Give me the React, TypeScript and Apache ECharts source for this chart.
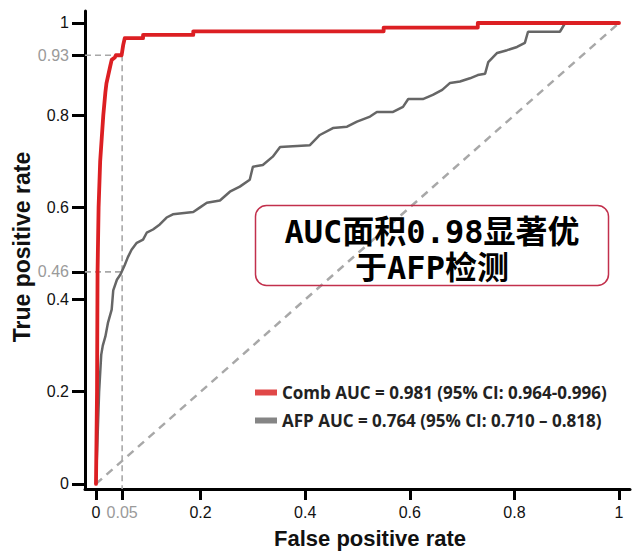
import React, { useEffect, useRef } from "react";
import * as echarts from "echarts";

// Comb ROC curve points [FPR, TPR]
const combPoints: [number, number][] = [
  [0, 0], [0.001, 0.1], [0.002, 0.2], [0.003, 0.46], [0.005, 0.6], [0.008, 0.7],
  [0.011, 0.75], [0.014, 0.8], [0.018, 0.85], [0.02, 0.869], [0.027, 0.905],
  [0.03, 0.92], [0.036, 0.925], [0.038, 0.93], [0.049, 0.93], [0.052, 0.952],
  [0.055, 0.967], [0.09, 0.967], [0.09, 0.974], [0.186, 0.974], [0.186, 0.982],
  [0.55, 0.982], [0.55, 0.99], [0.73, 0.99], [0.73, 1], [1, 1],
];

// AFP ROC curve points [FPR, TPR]
const afpPoints: [number, number][] = [
  [0, 0], [0.003, 0.1], [0.006, 0.2], [0.008, 0.24], [0.01, 0.28], [0.013, 0.3],
  [0.018, 0.32], [0.023, 0.35], [0.03, 0.378], [0.033, 0.42], [0.04, 0.443],
  [0.047, 0.455], [0.055, 0.475], [0.061, 0.492], [0.068, 0.508], [0.078, 0.523],
  [0.09, 0.53], [0.097, 0.545], [0.109, 0.552], [0.122, 0.563], [0.135, 0.578],
  [0.147, 0.585], [0.186, 0.59], [0.199, 0.6], [0.212, 0.61], [0.237, 0.615],
  [0.256, 0.634], [0.275, 0.645], [0.294, 0.66], [0.3, 0.688], [0.319, 0.692],
  [0.338, 0.71], [0.352, 0.731], [0.409, 0.735], [0.428, 0.757], [0.453, 0.772],
  [0.48, 0.775], [0.499, 0.786], [0.524, 0.797], [0.537, 0.807], [0.568, 0.807],
  [0.587, 0.818], [0.597, 0.835], [0.625, 0.835], [0.644, 0.844], [0.662, 0.855],
  [0.677, 0.87], [0.696, 0.873], [0.715, 0.88], [0.73, 0.887], [0.744, 0.89],
  [0.75, 0.915], [0.767, 0.935], [0.786, 0.941], [0.805, 0.948], [0.82, 0.957],
  [0.826, 0.981], [0.887, 0.981], [0.897, 1], [1, 1],
];

const diagonal: [number, number][] = [[0, 0], [1, 1]];

const xTicks = [0, 0.05, 0.2, 0.4, 0.6, 0.8, 1];
const yTicks = [0, 0.2, 0.4, 0.46, 0.6, 0.8, 0.93, 1];
const highlightTicks = [0.05, 0.46, 0.93];

const refFPR = 0.05;
const refTPRHigh = 0.93;
const refTPRLow = 0.46;

const combName = "Comb AUC = 0.981 (95% CI: 0.964-0.996)";
const afpName = "AFP AUC = 0.764 (95% CI: 0.710 \u2013 0.818)";
const noteText = "AUC面积0.98显著优\n于AFP检测";

const X_MIN = -0.021;
const X_MAX = 1.021;
const Y_MIN = -0.011;
const Y_MAX = 1.026;

const fmt = (v: number) => {
  const s = String(Math.round(v * 100) / 100);
  return highlightTicks.some((h) => Math.abs(h - v) < 1e-6) ? `{g|${s}}` : `{k|${s}}`;
};

const labelRich = {
  g: { color: "#9a9a9a", fontSize: 16, fontFamily: "'Liberation Sans', Arial, sans-serif" },
  k: { color: "#111", fontSize: 16, fontFamily: "'Liberation Sans', Arial, sans-serif" },
};

export default function App() {
  const ref = useRef<HTMLDivElement>(null);
  useEffect(() => {
    if (!ref.current) return;
    const chart = echarts.init(ref.current, undefined, { renderer: "svg" });
    const refLine = { color: "#a8a8a8", width: 1.6, type: [6, 4] as any };
    chart.setOption({
      animation: false,
      backgroundColor: "#ffffff",
      grid: { left: 85, right: 3, top: 11, bottom: 66 },
      xAxis: {
        type: "value",
        min: X_MIN,
        max: X_MAX,
        splitLine: { show: false },
        axisLine: { show: true, onZero: false, lineStyle: { color: "#000", width: 3 } },
        axisTick: { show: true, customValues: xTicks, length: 11, lineStyle: { color: "#000", width: 3 } },
        axisLabel: { customValues: xTicks, formatter: fmt, rich: labelRich, margin: 15 },
      },
      yAxis: {
        type: "value",
        min: Y_MIN,
        max: Y_MAX,
        splitLine: { show: false },
        axisLine: { show: true, onZero: false, lineStyle: { color: "#000", width: 3 } },
        axisTick: { show: true, customValues: yTicks, length: 13, lineStyle: { color: "#000", width: 3 } },
        axisLabel: { customValues: yTicks, formatter: fmt, rich: labelRich, margin: 16 },
      },
      legend: {
        show: true,
        orient: "vertical",
        left: 250,
        top: 379,
        itemWidth: 22,
        itemHeight: 6,
        itemGap: 11,
        icon: "rect",
        textStyle: {
          fontSize: 17,
          fontWeight: "bold",
          color: "#222",
          fontFamily: "'Open Sans', sans-serif",
        },
        data: [
          { name: combName, itemStyle: { color: "#e04848" } },
          { name: afpName, itemStyle: { color: "#858585" } },
        ],
      },
      series: [
        {
          type: "line",
          name: "diag",
          data: diagonal,
          symbol: "none",
          lineStyle: { color: "#a8a8a8", width: 2.5, type: [8, 6] as any },
          z: 1,
          silent: true,
        },
        {
          type: "line",
          name: "refH1",
          data: [[X_MIN, refTPRHigh], [refFPR, refTPRHigh]],
          symbol: "none",
          lineStyle: refLine,
          z: 1,
        },
        {
          type: "line",
          name: "refH2",
          data: [[X_MIN, refTPRLow], [refFPR, refTPRLow]],
          symbol: "none",
          lineStyle: refLine,
          z: 1,
        },
        {
          type: "line",
          name: "refV",
          data: [[refFPR, refTPRHigh], [refFPR, Y_MIN]],
          symbol: "none",
          lineStyle: refLine,
          z: 1,
        },
        {
          type: "line",
          name: afpName,
          data: afpPoints,
          symbol: "none",
          lineStyle: { color: "#666666", width: 2.5 },
          itemStyle: { color: "#858585" },
          z: 3,
        },
        {
          type: "line",
          name: combName,
          data: combPoints,
          symbol: "none",
          lineStyle: { color: "#dc1f23", width: 3.8, cap: "round", join: "round" },
          itemStyle: { color: "#e04848" },
          z: 4,
        },
      ],
      graphic: [
        {
          type: "rect",
          shape: { x: 255.5, y: 205.5, width: 353, height: 80, r: 11 },
          style: { fill: "none", stroke: "#c2304c", lineWidth: 1.5 },
          z: 10,
        },
        {
          type: "text",
          x: 432,
          y: 250,
          style: {
            text: noteText,
            fill: "#000",
            font: "bold 32px 'DejaVu Sans Mono', 'Noto Sans CJK SC', monospace",
            align: "center",
            verticalAlign: "middle",
            lineHeight: 36,
          },
          z: 11,
        },
        {
          type: "text",
          x: 370,
          y: 538,
          style: {
            text: "False positive rate",
            fill: "#111",
            font: "bold 22px 'Liberation Sans', Arial, sans-serif",
            align: "center",
            verticalAlign: "middle",
          },
        },
        {
          type: "text",
          x: 22,
          y: 247,
          rotation: Math.PI / 2,
          style: {
            text: "True positive rate",
            fill: "#111",
            font: "bold 23px 'Liberation Sans', Arial, sans-serif",
            align: "center",
            verticalAlign: "middle",
          },
        },
      ],
    });
    return () => chart.dispose();
  }, []);
  return (
    <div
      ref={ref}
      style={{ position: "fixed", left: 0, top: 0, width: 633, height: 555 }}
    />
  );
}
